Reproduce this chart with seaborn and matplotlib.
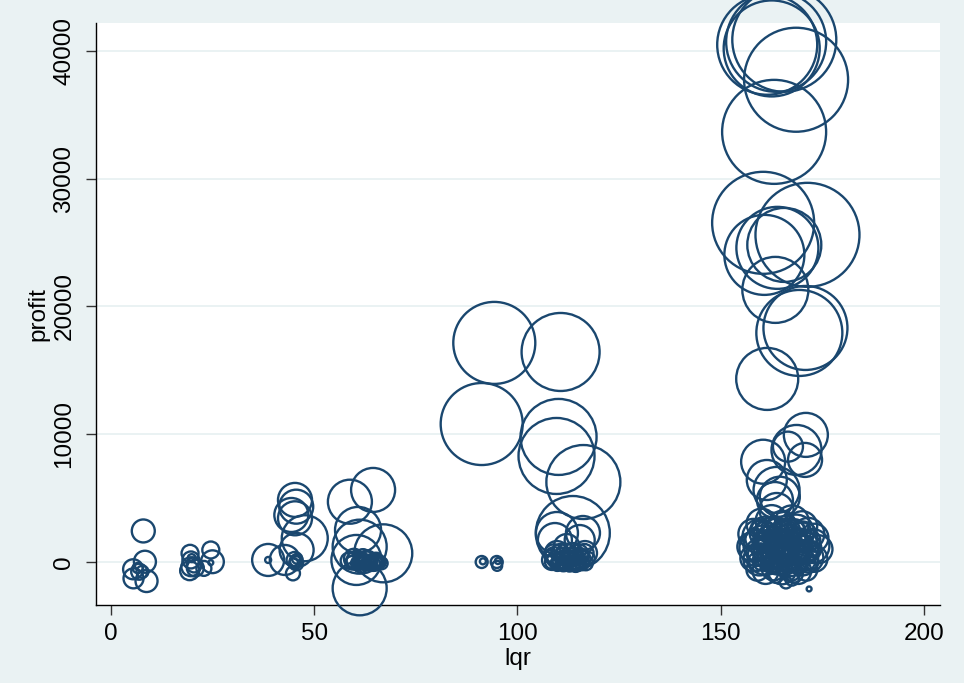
import matplotlib
matplotlib.use("Agg")
import matplotlib.pyplot as plt
import pandas as pd
import seaborn as sns

NAVY = "#1a476f"
BG = "#eaf2f3"
# bubble weight -> marker area (pt^2) at 100 dpi
AREA_SCALE = (2 * 0.72) ** 2

# one row per bubble, grouped by lqr cluster
lqr = [
    # ~5-9
    8.0, 8.4, 5.5, 7.0, 8.8, 5.6, 6.6, 7.8,
    # ~20-25
    19.5, 19.7, 19.7, 19.4, 20.5, 20.8, 24.6, 25.0, 24.6, 22.9, 19.9,
    # ~38-48
    38.7, 38.7, 45.3, 45.6, 44.4, 45.3, 47.7, 45.7, 42.8, 44.8, 45.2, 45.5, 45.8, 45.0, 45.6,
    # ~58-67
    58.8, 64.5, 60.8, 61.2, 60.4, 67.0, 61.2,
    58.5, 59.5, 60.2, 61.0, 61.8, 62.5, 63.3, 64.0, 64.8, 65.5,
    66.2, 59.8, 61.5, 63.0, 64.5, 66.0, 60.5, 62.0, 63.8, 65.2,
    59.2, 60.8, 62.2, 63.6, 65.0, 66.6,
    # ~91-95
    91.2, 94.9, 95.0, 91.5, 95.2,
    # ~108-118
    94.3, 110.6, 91.2, 110.1, 109.6, 116.2, 113.6,
    109.7, 109.2, 116.1, 115.3, 112.1, 109.7, 108.5, 113.6, 116.6, 114.0,
    108.5, 109.3, 110.0, 110.8, 111.5, 112.3, 113.0, 113.8, 114.5, 115.3,
    116.0, 116.8, 109.0, 111.0, 113.5, 115.5, 117.5, 110.5, 112.5, 114.8,
    109.0, 110.5, 112.0, 113.5, 115.0, 116.5, 109.8, 111.3, 112.8, 114.3, 115.8,
    # ~157-174
    161.4, 162.5, 163.6, 165.6, 168.5, 163.1, 160.4, 171.3, 160.7, 163.9,
    165.6, 163.4, 169.3, 170.8, 161.4,
    170.9, 168.6, 170.7, 166.5, 160.4, 161.3, 163.7, 163.3, 163.7, 164.5,
    160.0, 162.5, 165.0, 167.5, 170.0,
    158.0, 159.5, 161.0, 162.5, 164.0, 165.5, 167.0, 168.5, 170.0, 171.5, 173.0,
    157.5, 159.0, 160.5, 162.0, 163.5, 165.0, 166.5, 168.0, 169.5, 171.0, 172.5, 174.0,
    158.0, 159.5, 161.0, 162.5, 164.0, 165.5, 167.0, 168.5, 170.0, 171.5, 173.0,
    159.0, 161.0, 163.0, 165.0, 167.0, 169.0, 171.0,
    171.7, 167.5, 163.5, 166.0, 168.0,
    160.0, 162.0, 164.0, 166.0, 168.0, 170.0,
    161.0, 163.0, 165.0, 167.0, 169.0,
    158.5, 160.0, 161.5, 163.0, 164.5, 166.0, 167.5, 169.0, 170.5, 172.0,
    159.0, 160.5, 162.0, 163.5, 165.0, 166.5, 168.0, 169.5, 171.0, 172.5,
    158.8, 160.3, 161.8, 163.3, 164.8, 166.3, 167.8, 169.3, 170.8, 172.3,
    159.5, 161.0, 162.5, 164.0, 165.5, 167.0, 168.5, 170.0,
]

profit = [
    2430, 20, -570, -760, -1490, -1280, -470, -760,
    680, 160, -370, -680, -230, -470, 940, 20, -50, -500, 300,
    160, 160, 4860, 4330, 3680, 3420, 1860, 940, 160, -890, 160, 100, 250, 0, -100,
    4720, 5640, 2510, 1200, 160, 680, -2060,
    100, -50, 150, 0, 80, -100, 120, 30, -60, 90,
    10, 250, -200, 200, -150, -30, -250, 300, -80, 180,
    0, -100, 100, -50, 50, -100,
    0, 0, -300, 50, 80,
    17150, 16440, 10800, 9790, 8300, 6260, 2270,
    2270, 1720, 2270, 1720, 1170, 700, 160, 700, 700, 300,
    0, 200, -100, 150, -50, 300, 50, -150, 100, -30,
    250, -100, 450, 500, 400, 450, 300, -250, -200, -220,
    600, 700, 650, 750, 600, 700, -150, -100, -200, -150, -100,
    40490, 40200, 40720, 40880, 37750, 33670, 26550, 25610, 24040, 24590,
    24820, 21300, 17930, 18320, 14330,
    9950, 8770, 7990, 9030, 7850, 6420, 5640, 4850, 4070, 5110,
    3000, 3200, 2900, 3100, 2800,
    2200, 2000, 2300, 2100, 2250, 1950, 2150, 2300, 2000, 2200, 1900,
    1200, 1100, 1300, 1250, 1000, 1150, 1300, 1050, 1200, 1100, 1250, 1000,
    300, 200, 400, 250, 350, 150, 300, 400, 200, 350, 250,
    -600, -700, -500, -650, -550, -700, -600,
    -2110, -1300, -1000, -1600, -900,
    800, 600, 900, 700, 1600, 1500,
    1700, 1800, 500, 1600, 700,
    1800, 1600, 1900, 1500, 1700, 1400, 1800, 1600, 1500, 1700,
    900, 1000, 800, 1100, 950, 850, 1000, 900, 800, 1000,
    0, 100, -100, 50, -50, 150, 0, -100, 100, 0,
    2600, 2500, 2700, 2400, 2600, 2500, 2700, 2400,
]

wt = [
    132, 121, 100, 64, 121, 100, 25, 36,
    72, 72, 90, 90, 56, 72, 72, 130, 6, 56, 16,
    256, 9, 289, 289, 289, 289, 529, 289, 225, 49, 64, 36, 25, 16, 49,
    484, 484, 529, 729, 625, 841, 729,
    64, 49, 81, 36, 64, 49, 81, 36, 64, 49,
    36, 100, 64, 81, 49, 36, 25, 81, 25, 49,
    36, 49, 36, 64, 49, 36,
    36, 36, 25, 9, 9,
    1681, 1521, 1681, 1444, 1444, 1369, 1369,
    441, 289, 289, 225, 169, 144, 100, 100, 144, 64,
    49, 64, 36, 81, 49, 64, 36, 49, 81, 36,
    64, 49, 81, 64, 81, 64, 36, 25, 25, 36,
    100, 81, 100, 81, 100, 81, 49, 64, 49, 64, 49,
    2500, 2304, 2500, 2704, 2704, 2704, 2601, 2704, 1600, 1681,
    1369, 1089, 1849, 1764, 961,
    484, 625, 289, 225, 484, 400, 529, 324, 289, 400,
    225, 256, 196, 289, 225,
    225, 289, 256, 324, 225, 289, 256, 324, 225, 256, 196,
    196, 324, 400, 256, 361, 289, 400, 256, 324, 225, 289, 196,
    169, 256, 324, 196, 289, 225, 324, 196, 256, 225, 169,
    121, 169, 144, 196, 144, 169, 121,
    6, 49, 64, 36, 81,
    64, 81, 49, 100, 64, 81,
    100, 64, 81, 49, 100,
    100, 81, 121, 64, 144, 100, 81, 121, 64, 100,
    121, 144, 100, 81, 144, 121, 100, 81, 144, 64,
    81, 100, 64, 121, 81, 100, 64, 81, 100, 49,
    64, 81, 100, 64, 81, 100, 64, 81,
]

df = pd.DataFrame({"lqr": lqr, "profit": profit, "wt": wt})

sns.set_theme(style="white")
plt.rcParams["font.family"] = ["Liberation Sans", "DejaVu Sans"]

fig = plt.figure(figsize=(9.64, 6.83), dpi=100, facecolor=BG)
ax = fig.add_axes([0.0991, 0.1142, 0.8765, 0.8521])
ax.set_facecolor("white")

wmax = max(wt)
sns.scatterplot(data=df, x="lqr", y="profit", size="wt",
                sizes=(0, AREA_SCALE * wmax), size_norm=(0, wmax),
                legend=False, ax=ax, zorder=3)
pts = ax.collections[0]
pts.set_facecolor("none")
pts.set_edgecolor(NAVY)
pts.set_linewidth(1.7)
pts.set_clip_on(False)

ax.set_xlim(-3.74, 204.0)
ax.set_ylim(-3366, 42190)
ax.set_xticks([0, 50, 100, 150, 200])
ax.set_yticks([0, 10000, 20000, 30000, 40000])
ax.yaxis.grid(True, color=BG, lw=1.4)
ax.xaxis.grid(False)
ax.set_axisbelow(True)

for s in ["top", "right"]:
    ax.spines[s].set_visible(False)
for s in ["left", "bottom"]:
    ax.spines[s].set_color("black")
    ax.spines[s].set_linewidth(1.0)

ax.tick_params(axis="both", which="major", bottom=True, left=True, direction="out",
               length=7, width=1, color="#333333", labelsize=17.5, labelcolor="black")
ax.tick_params(axis="y", pad=7.5)
ax.tick_params(axis="x", pad=6)
plt.setp(ax.get_yticklabels(), rotation=90, va="center")

ax.set_xlabel("lqr", fontsize=17.5, labelpad=2, color="black")
ax.set_ylabel("profit", fontsize=17.5, labelpad=3, color="black")

fig.savefig("out.png", dpi=100, facecolor=BG)
